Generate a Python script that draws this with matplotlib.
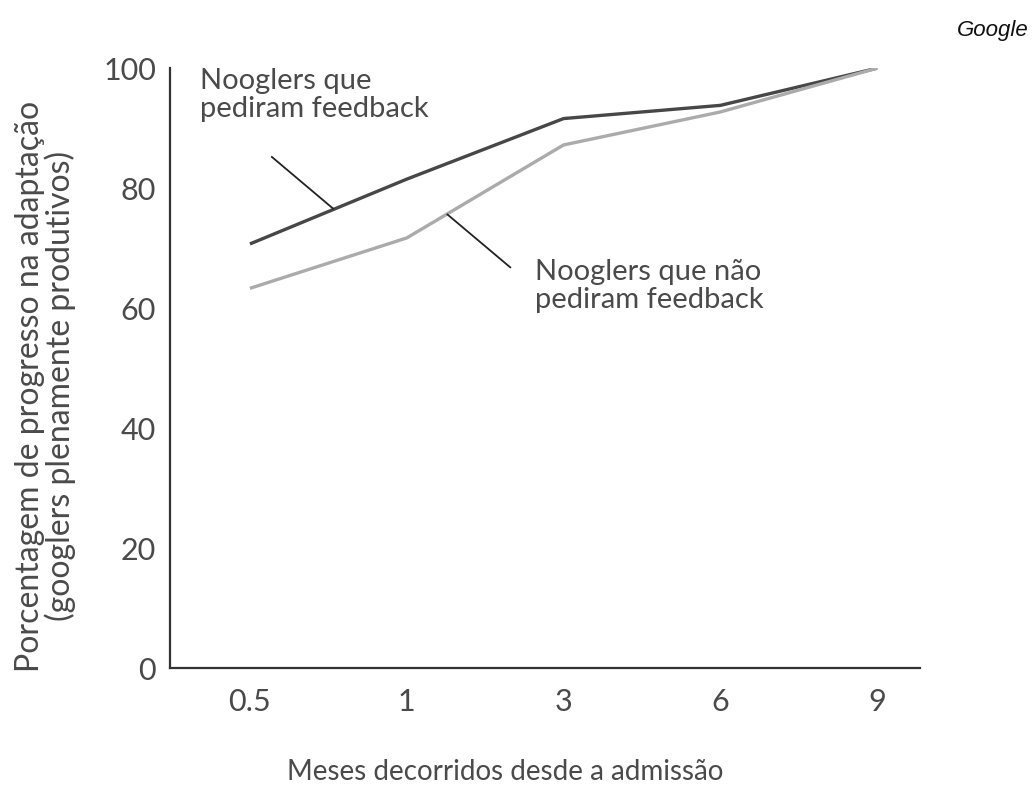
import matplotlib.pyplot as plt

# Meses desde a admissão (eixo categórico)
meses = ["0.5", "1", "3", "6", "9"]
com_feedback = [70.7, 81.5, 91.6, 93.8, 100]
sem_feedback = [63.3, 71.7, 87.2, 92.7, 100]
yticks = [0, 20, 40, 60, 80, 100]

plt.rcParams['font.family'] = ['Lato', 'DejaVu Sans']
cor_texto = '#4a4a4a'

fig = plt.figure(figsize=(10.32, 8.02), dpi=100)
ax = fig.add_axes([0.1647, 0.167, 0.7263, 0.748])

x = list(range(len(meses)))
ax.plot(x, com_feedback, color='#474747', lw=2.4, solid_capstyle='butt')
ax.plot(x, sem_feedback, color='#ababab', lw=2.4, solid_capstyle='butt')

ax.set_xlim(-0.51, 4.27)
ax.set_ylim(0, 100)
ax.set_xticks(x)
ax.set_xticklabels(meses)
ax.set_yticks(yticks)
ax.tick_params(length=0, labelsize=22, labelcolor=cor_texto)
ax.tick_params(axis='x', pad=14)
ax.tick_params(axis='y', pad=10)

for s in ['top', 'right']:
    ax.spines[s].set_visible(False)
for s in ['left', 'bottom']:
    ax.spines[s].set_color('#333333')
    ax.spines[s].set_linewidth(1.6)

ax.set_xlabel("Meses decorridos desde a admissão", fontsize=20, color=cor_texto)
ax.xaxis.set_label_coords(0.447, -0.152)
ax.set_ylabel("Porcentagem de progresso na adaptação\n(googlers plenamente produtivos)",
              fontsize=23, color=cor_texto, linespacing=1.0)
ax.yaxis.set_label_coords(-0.125, 0.47)

# Rótulos das séries com linhas de chamada
ax.text(-0.32, 95.5, "Nooglers que\npediram feedback", fontsize=21, color=cor_texto,
        va='center', ha='left', linespacing=1.1)
ax.plot([0.14, 0.53], [85.2, 76.6], color='#222222', lw=1.3)

ax.text(1.82, 63.7, "Nooglers que não\npediram feedback", fontsize=21, color=cor_texto,
        va='center', ha='left', linespacing=1.1)
ax.plot([1.26, 1.66], [75.6, 66.8], color='#222222', lw=1.3)

fig.text(0.997, 0.962, "Google", fontsize=16, style='italic', ha='right', va='center',
         family=['Liberation Sans', 'DejaVu Sans'], color='#111111')

fig.savefig("out.png", dpi=100, facecolor='white')
